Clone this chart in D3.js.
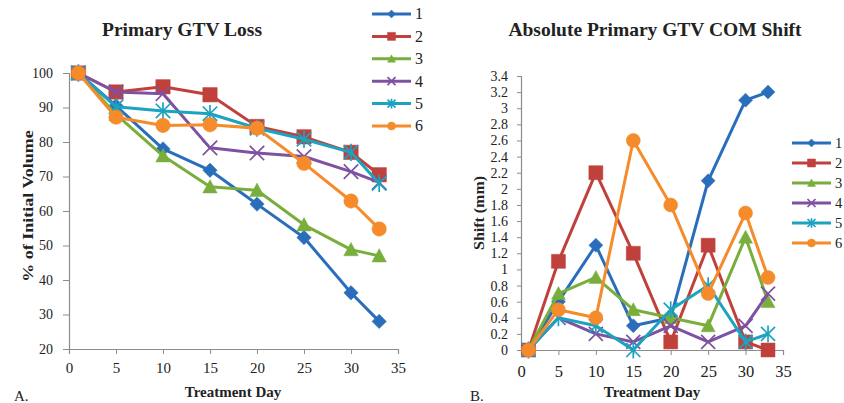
<!DOCTYPE html>
<html>
<head>
<meta charset="utf-8">
<script src="https://cdn.jsdelivr.net/npm/d3@7"></script>
<style>
  body { margin: 0; background: #fff; }
  text { font-family: "Liberation Serif", "Times New Roman", serif; fill: #222; }
</style>
</head>
<body>
<script>
const WIDTH = 844
const HEIGHT = 403

const days = [1, 5, 10, 15, 20, 25, 30, 33]
const seriesNames = ['1', '2', '3', '4', '5', '6']
const colors = ['#2a6ebb', '#c0413b', '#79ae3c', '#7e52a0', '#1ba3c0', '#f58b2a']
const shapes = ['diamond', 'square', 'triangle', 'x', 'asterisk', 'circle']

// % of initial volume
const loss1 = [100, 90.5, 78, 71.8, 62, 52.3, 36.3, 28]
const loss2 = [100, 94.5, 96, 93.7, 84.5, 81.5, 77, 70.5]
const loss3 = [100, 88, 76, 67, 66, 56, 48.8, 47]
const loss4 = [100, 94.5, 94, 78.3, 76.8, 75.8, 71.4, 68.3]
const loss5 = [100, 90.2, 89, 88.2, 84, 80.8, 77, 68]
const loss6 = [100, 87.2, 84.8, 85, 84, 73.8, 62.9, 54.8]

// COM shift (mm)
const shift1 = [0, 0.6, 1.3, 0.3, 0.4, 2.1, 3.1, 3.2]
const shift2 = [0, 1.1, 2.2, 1.2, 0.1, 1.3, 0.1, 0]
const shift3 = [0, 0.7, 0.9, 0.5, 0.4, 0.3, 1.4, 0.6]
const shift4 = [0, 0.4, 0.2, 0.1, 0.3, 0.1, 0.3, 0.7]
const shift5 = [0, 0.4, 0.3, 0, 0.5, 0.8, 0.1, 0.2]
const shift6 = [0, 0.5, 0.4, 2.6, 1.8, 0.7, 1.7, 0.9]

const xTicks = [0, 5, 10, 15, 20, 25, 30, 35]
const lossTicks = [20, 30, 40, 50, 60, 70, 80, 90, 100]
const shiftTicks = [0, 0.2, 0.4, 0.6, 0.8, 1, 1.2, 1.4, 1.6, 1.8, 2, 2.2, 2.4, 2.6, 2.8, 3, 3.2, 3.4]

const svg = d3.select('body').append('svg')
  .attr('width', WIDTH)
  .attr('height', HEIGHT)

function markerPath(shape, s) {
  const p = d3.path()
  if (shape === 'diamond') {
    p.moveTo(0, -s); p.lineTo(s, 0); p.lineTo(0, s); p.lineTo(-s, 0); p.closePath()
  } else if (shape === 'square') {
    p.rect(-s, -s, 2 * s, 2 * s)
  } else if (shape === 'triangle') {
    p.moveTo(0, -s); p.lineTo(s, s * 0.85); p.lineTo(-s, s * 0.85); p.closePath()
  } else if (shape === 'circle') {
    p.arc(0, 0, s, 0, 2 * Math.PI)
  } else {
    p.moveTo(-s, -s); p.lineTo(s, s); p.moveTo(-s, s); p.lineTo(s, -s)
    if (shape === 'asterisk') { p.moveTo(0, -s * 1.2); p.lineTo(0, s * 1.2) }
  }
  return p.toString()
}

function drawMarker(g, shape, color, s) {
  const stroked = shape === 'x' || shape === 'asterisk'
  g.append('path')
    .attr('d', markerPath(shape, s))
    .attr('fill', stroked ? 'none' : color)
    .attr('stroke', color)
    .attr('stroke-width', stroked ? 1.7 : 0.5)
}

function drawChart(o) {
  const { x, y } = o
  const g = svg.append('g')

  // axes
  const xAxis = g.append('g')
    .attr('transform', `translate(0,${y.range()[0]})`)
    .call(d3.axisBottom(x).tickValues(xTicks).tickSize(5).tickPadding(o.xPad))
  xAxis.selectAll('.tick text').attr('font-size', o.xTickFont)
  const yAxis = g.append('g')
    .attr('transform', `translate(${x.range()[0]},0)`)
    .call(d3.axisLeft(y).tickValues(o.yTicks).tickSize(o.yTickSize).tickPadding(o.yPad).tickFormat(o.yFormat))
  yAxis.selectAll('.tick text').attr('font-size', o.yTickFont)
  ;[xAxis, yAxis].forEach(a => {
    a.select('.domain').attr('stroke', '#8c8c8c').attr('stroke-width', 1.2)
    a.selectAll('.tick line').attr('stroke', '#8c8c8c')
    a.selectAll('.tick text').attr('fill', '#222')
      .attr('font-family', '"Liberation Serif", serif')
  })

  // lines + markers
  const line = d3.line().x((d, i) => x(days[i])).y(d => y(d))
  o.series.forEach((vals, k) => {
    g.append('path')
      .datum(vals)
      .attr('d', line)
      .attr('fill', 'none')
      .attr('stroke', colors[k])
      .attr('stroke-width', 3)
      .attr('stroke-linejoin', 'round')
    vals.forEach((v, i) => {
      const m = g.append('g').attr('transform', `translate(${x(days[i])},${y(v)})`)
      drawMarker(m, shapes[k], colors[k], o.markerSize)
    })
  })

  // texts
  g.append('text')
    .attr('x', o.titleX).attr('y', 36)
    .attr('text-anchor', 'middle')
    .attr('font-size', 19.5).attr('font-weight', 'bold')
    .text(o.title)
  g.append('text')
    .attr('x', o.xTitleX).attr('y', 397)
    .attr('text-anchor', 'middle')
    .attr('font-size', 15).attr('font-weight', 'bold')
    .text('Treatment Day')
  g.append('text')
    .attr('transform', `translate(${o.yTitleX},${o.yTitleY}) rotate(-90) scale(${o.yTitleStretch},1)`)
    .attr('text-anchor', 'middle')
    .attr('font-size', o.yTitleFont).attr('font-weight', 'bold')
    .text(o.yTitle)
  g.append('text')
    .attr('x', o.letterX).attr('y', 401)
    .attr('font-size', 15)
    .text(o.letter)
}

function drawLegend(x0, y0, step, fontSize) {
  const lg = svg.append('g')
  seriesNames.forEach((name, k) => {
    const row = lg.append('g').attr('transform', `translate(${x0},${y0 + k * step})`)
    row.append('line')
      .attr('x1', 0).attr('x2', 39)
      .attr('stroke', colors[k]).attr('stroke-width', 3)
    const m = row.append('g').attr('transform', 'translate(19.5,0)')
    drawMarker(m, shapes[k], colors[k], 4)
    row.append('text')
      .attr('x', 43).attr('y', fontSize * 0.34)
      .attr('font-size', fontSize)
      .text(name)
  })
}

// A. Primary GTV Loss
const xA = d3.scaleLinear().domain([0, 35]).range([69, 398])
const yA = d3.scaleLinear().domain([20, 100]).range([349, 73])
drawChart({
  x: xA, y: yA,
  series: [loss1, loss2, loss3, loss4, loss5, loss6],
  yTicks: lossTicks, yFormat: d3.format('d'),
  xTickFont: 15, xPad: 8, yTickFont: 14, yTickSize: 6, yPad: 10,
  title: 'Primary GTV Loss', titleX: 182, xTitleX: 233,
  yTitle: '% of Initial Volume', yTitleX: 33, yTitleY: 206, yTitleStretch: 1.2, yTitleFont: 15,
  letter: 'A.', letterX: 14, markerSize: 7.2
})
drawLegend(372, 14, 22.4, 16)

// B. Absolute Primary GTV COM Shift
const xB = d3.scaleLinear().domain([0, 35]).range([521, 783])
const yB = d3.scaleLinear().domain([0, 3.4]).range([350, 76])
drawChart({
  x: xB, y: yB,
  series: [shift1, shift2, shift3, shift4, shift5, shift6],
  yTicks: shiftTicks, yFormat: d => (d === 0 ? '0' : d3.format('~g')(d)),
  xTickFont: 16.5, xPad: 10, yTickFont: 14, yTickSize: 4, yPad: 9,
  title: 'Absolute Primary GTV COM Shift', titleX: 655, xTitleX: 652,
  yTitle: 'Shift (mm)', yTitleX: 484, yTitleY: 213, yTitleStretch: 1.1, yTitleFont: 14.5,
  letter: 'B.', letterX: 470, markerSize: 7
})
drawLegend(792, 143, 20, 14.5)
</script>
</body>
</html>
